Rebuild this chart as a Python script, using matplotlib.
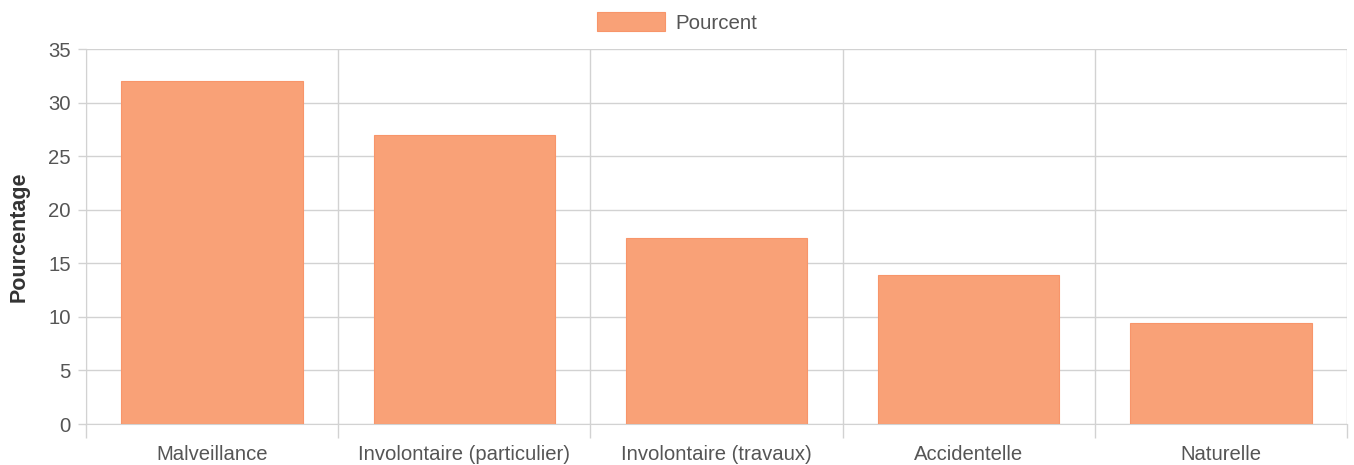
import numpy as np
import matplotlib as mpl
mpl.use("Agg")
import matplotlib.pyplot as plt

# data
categories = ["Malveillance", "Involontaire (particulier)", "Involontaire (travaux)",
              "Accidentelle", "Naturelle"]
pourcent = [32.0, 27.0, 17.4, 13.9, 9.4]
yticks = [0, 5, 10, 15, 20, 25, 30, 35]

mpl.rcParams['font.family'] = ['Liberation Sans', 'DejaVu Sans']

fig = plt.figure(figsize=(13.54, 4.65), dpi=100)
ax = fig.add_axes([86/1354, 1 - 424/465, (1347-86)/1354, (424-49)/465])

x = np.arange(len(categories))
ax.bar(x, pourcent, width=0.72, color='#F9A177', edgecolor='#F8956A',
       linewidth=0.8, label='Pourcent', zorder=3)

ax.set_xlim(-0.5, len(categories) - 0.5)
ax.set_ylim(0, 35)
ax.set_yticks(yticks)
ax.set_xticks(x)
ax.set_xticklabels(categories)
ax.set_xticks(np.arange(len(categories) + 1) - 0.5, minor=True)

gridc = '#d2d2d2'
ax.grid(axis='y', which='major', color=gridc, linewidth=1, zorder=0)
ax.grid(axis='x', which='minor', color=gridc, linewidth=1, zorder=0)
ax.tick_params(axis='x', which='major', length=0, pad=15, labelsize=14.6, labelcolor='#555555')
ax.tick_params(axis='x', which='minor', length=10, color=gridc, width=1)
ax.tick_params(axis='y', length=6, color=gridc, width=1, pad=5, labelsize=14.6,
               labelcolor='#555555')

for s in ['top', 'right']:
    ax.spines[s].set_visible(False)
ax.spines['left'].set_color(gridc)
ax.spines['bottom'].set_color(gridc)

ax.set_ylabel('Pourcentage', fontsize=15.5, fontweight='bold', color='#333333', labelpad=13)

leg = fig.legend(loc='upper center', bbox_to_anchor=(0.5, 1.0), frameon=False,
                 fontsize=14.8, handlelength=3.3, handleheight=1.0, handletextpad=0.5,
                 borderaxespad=0.2)
for t in leg.get_texts():
    t.set_color('#555555')

plt.savefig('out.png', dpi=100)
